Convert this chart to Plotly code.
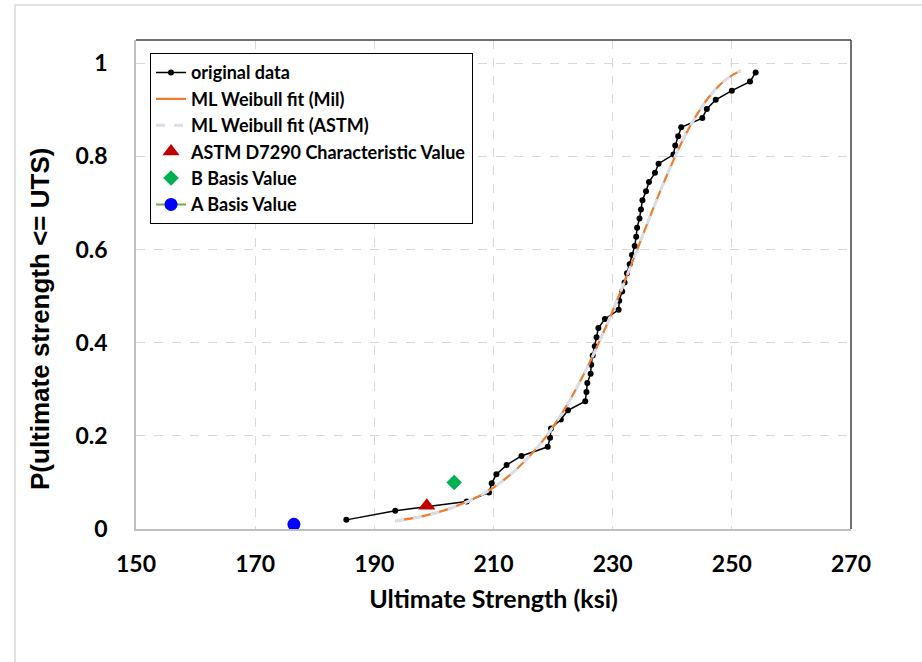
import plotly.graph_objects as go

# Measured ultimate strengths (ksi), sorted, with median-rank probabilities i/(n+1)
uts_ksi = [
    185.3, 193.5, 205.5, 209.25, 209.7, 210.5, 212.2, 214.7, 219.1, 219.5,
    219.65, 221.3, 222.5, 225.4, 225.6, 225.75, 226.3, 226.4, 226.65, 227.0,
    227.3, 227.6, 228.7, 231.0, 231.1, 231.6, 232.0, 232.4, 232.85, 233.25,
    233.7, 233.95, 234.1, 234.5, 234.75, 235.0, 235.6, 236.1, 237.1, 237.7,
    240.2, 240.5, 241.0, 241.5, 245.05, 245.8, 247.3, 250.0, 253.05, 254.0,
]
n_spec = len(uts_ksi)
prob = [(i + 1) / (n_spec + 1) for i in range(n_spec)]

# Weibull fit curve (strength, cumulative probability)
fit_ksi = [193.5, 198, 202, 206, 210, 214, 218, 222, 226, 228, 230,
           232, 234, 236, 238, 240, 242, 244, 246, 248, 250, 251.5]
fit_prob = [0.017, 0.027, 0.041, 0.061, 0.089, 0.130, 0.185, 0.259, 0.354,
            0.409, 0.468, 0.531, 0.596, 0.662, 0.726, 0.786, 0.841, 0.887,
            0.925, 0.954, 0.974, 0.984]

# Design values
char_value = (198.8, 0.05)
b_basis = (203.4, 0.10)
a_basis = (176.5, 0.01)

x_ticks = [150, 170, 190, 210, 230, 250, 270]
y_ticks = [0, 0.2, 0.4, 0.6, 0.8, 1]
y_tick_text = ["0", "0.2", "0.4", "0.6", "0.8", "1"]

FONT = "Lato"
Y_TITLE_FONT = "Liberation Sans"

fig = go.Figure()

fig.add_trace(go.Scatter(
    x=uts_ksi, y=prob, mode="lines+markers", name="original data",
    line=dict(color="#000000", width=1.5),
    marker=dict(color="#000000", size=6),
))
fig.add_trace(go.Scatter(
    x=fit_ksi, y=fit_prob, mode="lines", name="ML Weibull fit (Mil)",
    line=dict(color="#ED7D31", width=2.2, shape="spline"),
))
fig.add_trace(go.Scatter(
    x=fit_ksi, y=fit_prob, mode="lines", name="ML Weibull fit (ASTM)",
    line=dict(color="#D9DEE8", width=3, dash="dash", shape="spline"),
))
fig.add_trace(go.Scatter(
    x=[char_value[0]], y=[char_value[1]], mode="markers",
    name="ASTM D7290 Characteristic Value",
    marker=dict(symbol="triangle-up", color="#C00000", size=15),
))
fig.add_trace(go.Scatter(
    x=[b_basis[0]], y=[b_basis[1]], mode="markers", name="B Basis Value",
    marker=dict(symbol="diamond", color="#00B050", size=12),
))
fig.add_trace(go.Scatter(
    x=[a_basis[0]], y=[a_basis[1]], mode="lines+markers", name="A Basis Value",
    line=dict(color="#70AD47", width=2),
    marker=dict(symbol="circle", color="#0000FF", size=13),
))

# Plot-area frame: darker top/right edges, outer chart border
frame = [
    dict(type="line", xref="paper", yref="paper", x0=0, x1=1, y0=1, y1=1,
         line=dict(color="#404040", width=1.5)),
    dict(type="line", xref="paper", yref="paper", x0=1, x1=1, y0=0, y1=1,
         line=dict(color="#404040", width=1.5)),
    dict(type="rect", xref="paper", yref="paper", x0=-0.1692, x1=1.12,
         y0=-0.30, y1=1.0716, line=dict(color="#D9D9D9", width=1.5),
         layer="below"),
]

# Vertical axis title, placed a little below the plot-area centre
y_title = dict(
    text="P(ultimate strength <= UTS)", textangle=-90,
    xref="paper", yref="paper", x=-0.1343, y=0.4294,
    xanchor="center", yanchor="middle", showarrow=False,
    font=dict(family=Y_TITLE_FONT, size=26, weight="bold", color="#000000"),
)

fig.update_layout(
    width=922, height=662,
    margin=dict(l=136, r=71, t=40, b=133),
    paper_bgcolor="white", plot_bgcolor="white",
    font=dict(family=FONT, color="#000000"),
    showlegend=True,
    legend=dict(
        x=0.0196, y=0.973, xanchor="left", yanchor="top",
        bgcolor="white", bordercolor="#000000", borderwidth=1,
        font=dict(family=FONT, size=18, weight="bold"),
        tracegroupgap=0, itemwidth=30,
    ),
    shapes=frame,
    annotations=[y_title],
)

fig.update_xaxes(
    range=[150, 270], tickvals=x_ticks, ticks="",
    showgrid=True, gridcolor="#D9D9D9", griddash="dash", gridwidth=1,
    showline=True, linecolor="#BFBFBF", linewidth=1.5, zeroline=False,
    tickfont=dict(family=FONT, size=23, weight="bold"),
    ticklabelstandoff=14,
    title=dict(text="Ultimate Strength (ksi)", standoff=14,
               font=dict(family=FONT, size=25, weight="bold")),
)
fig.update_yaxes(
    range=[0, 1.05], tickvals=y_ticks, ticktext=y_tick_text, ticks="",
    showgrid=True, gridcolor="#D9D9D9", griddash="dash", gridwidth=1,
    showline=True, linecolor="#BFBFBF", linewidth=1.5, zeroline=False,
    tickfont=dict(family=FONT, size=23, weight="bold"),
    ticklabelstandoff=22,
)

fig.write_html("out.html")
